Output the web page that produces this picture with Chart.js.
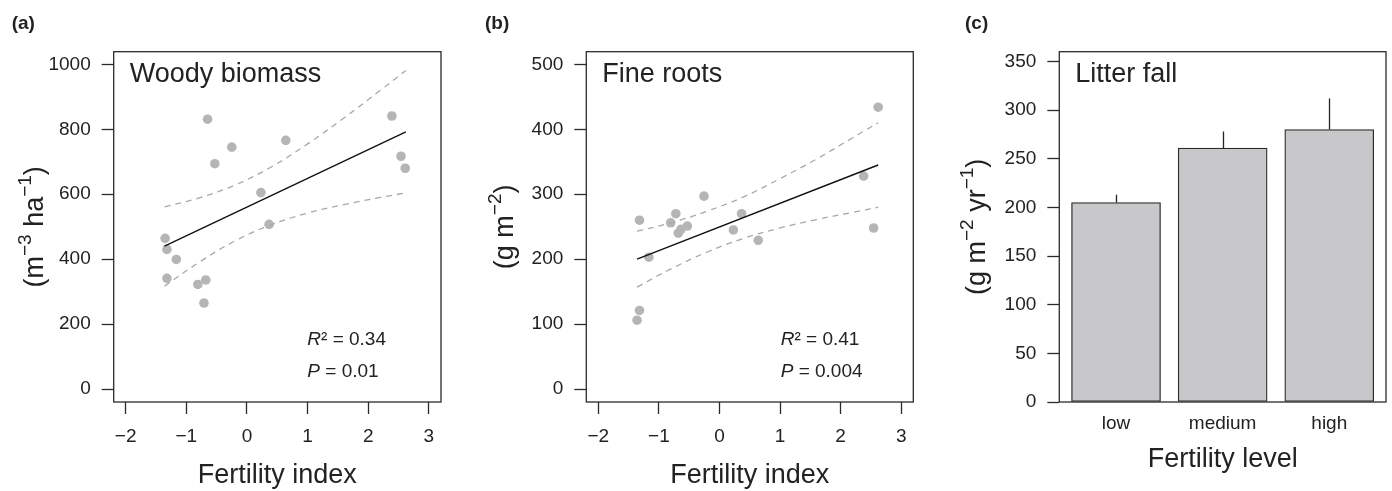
<!DOCTYPE html>
<html>
<head>
<meta charset="utf-8">
<script src="https://cdn.jsdelivr.net/npm/chart.js@4.4.1/dist/chart.umd.min.js"></script>
<style>
  html, body { margin: 0; padding: 0; background: #fff; }
  #wrap { position: relative; width: 1392px; height: 491px; overflow: hidden; }
  #wrap canvas { position: absolute; left: 0; top: 0; }
</style>
</head>
<body>
<div id="wrap">
  <canvas id="woody" width="1392" height="491"></canvas>
  <canvas id="roots" width="1392" height="491"></canvas>
  <canvas id="litter" width="1392" height="491"></canvas>
</div>
<script>
// panel (a) woody biomass vs fertility index
const woodyX = [-1.35, -1.32, -1.165, -1.32, -0.81, -0.68, -0.71, -0.65, -0.53, -0.25, 0.23, 0.365, 0.64, 2.39, 2.54, 2.61];
const woodyY = [464, 430, 399, 341, 322, 336, 265, 831, 694, 745, 605, 507, 766, 841, 717, 680];
const woodyFitX = [-1.36, 2.62];
const woodyFitY = [440, 792];
const woodyBandX = [-1.36, -0.8, -0.2, 0.4, 1.0, 1.6, 2.2, 2.62];
const woodyUpper = [561, 588, 628, 684, 755, 835, 920, 981];
const woodyLower = [317, 389, 456, 506, 542, 568, 590, 604];

// panel (b) fine roots vs fertility index
const rootsX = [-1.32, -1.165, -1.32, -1.36, -0.805, -0.72, -0.68, -0.635, -0.53, -0.255, 0.23, 0.365, 0.64, 2.38, 2.545, 2.62];
const rootsY = [260, 203, 121, 106, 256, 270, 240, 246, 251, 297, 245, 270, 229, 328, 248, 434];
const rootsFitX = [-1.36, 2.62];
const rootsFitY = [200, 345];
const rootsBandX = [-1.36, -0.8, -0.2, 0.4, 1.0, 1.6, 2.2, 2.62];
const rootsUpper = [243, 256, 274, 296, 324, 354, 387, 410];
const rootsLower = [157, 185, 211, 232, 248, 261, 272, 280];

// panel (c) litter fall by fertility level
const fertilityLevels = ["low", "medium", "high"];
const litterMean = [205, 261, 280];
const litterUpper = [213, 278, 312];

const fertTicks = [-2, -1, 0, 1, 2, 3];

const FONT = "'Liberation Sans', Arial, Helvetica, sans-serif";
const INK = "#222";
const DOT = "#b5b5b5";
const BAND = "#a8a8a8";
const YW = 100; // room kept for y tick labels

function pairs(xs, ys) {
  return xs.map((x, i) => ({ x: x, y: ys[i] }));
}

function minus(v) {
  return v < 0 ? "\u2212" + Math.abs(v) : String(v);
}

// draws box, titles, stats text and the y label with superscripts
function decor(spec) {
  return {
    id: "decor",
    afterDatasetsDraw(chart) {
      const ctx = chart.ctx;
      const a = chart.chartArea;
      ctx.save();

      if (spec.errors) {
        const xs = chart.scales.x, ys = chart.scales.y;
        ctx.strokeStyle = INK;
        ctx.lineWidth = 1.3;
        spec.errors.mean.forEach((m, i) => {
          const px = Math.round(xs.getPixelForValue(i)) + 0.5;
          ctx.beginPath();
          ctx.moveTo(px, ys.getPixelForValue(m));
          ctx.lineTo(px, ys.getPixelForValue(spec.errors.top[i]));
          ctx.stroke();
        });
      }

      ctx.strokeStyle = "#2a2a2a";
      ctx.lineWidth = 1.3;
      ctx.strokeRect(a.left, a.top, a.right - a.left, a.bottom - a.top);

      ctx.fillStyle = INK;
      ctx.textBaseline = "alphabetic";
      ctx.textAlign = "left";
      ctx.font = "bold 19px " + FONT;
      ctx.fillText(spec.tag, spec.tagX, 29);

      ctx.font = "27px " + FONT;
      ctx.fillText(spec.title, a.left + 16, 82);

      ctx.textAlign = "center";
      ctx.fillText(spec.xTitle, (a.left + a.right) / 2, spec.xTitleY);

      if (spec.stats) {
        ctx.textAlign = "left";
        let x = spec.stats.x;
        ctx.font = "italic 19px " + FONT;
        ctx.fillText("R", x, 345);
        x += ctx.measureText("R").width;
        ctx.font = "19px " + FONT;
        ctx.fillText("\u00b2 = " + spec.stats.r2, x, 345);
        x = spec.stats.x;
        ctx.font = "italic 19px " + FONT;
        ctx.fillText("P", x, 377);
        x += ctx.measureText("P").width;
        ctx.font = "19px " + FONT;
        ctx.fillText(" = " + spec.stats.p, x, 377);
      }

      // rotated y label, base text plus raised exponents
      const big = "27px " + FONT, small = "19px " + FONT;
      let total = 0;
      spec.yLabel.forEach(s => {
        ctx.font = s.sup ? small : big;
        total += ctx.measureText(s.t).width;
      });
      ctx.translate(spec.yLabelX, (a.top + a.bottom) / 2);
      ctx.rotate(-Math.PI / 2);
      ctx.textAlign = "left";
      let x = -total / 2;
      spec.yLabel.forEach(s => {
        ctx.font = s.sup ? small : big;
        ctx.fillText(s.t, x, s.sup ? -12 : 0);
        x += ctx.measureText(s.t).width;
      });
      ctx.restore();
    }
  };
}

function tickFont() {
  return { family: FONT, size: 19 };
}

function scatterPanel(id, box, xs, ys, fitX, fitY, bandX, up, lo, yMin, yMax, yTicks, spec) {
  new Chart(document.getElementById(id), {
    type: "scatter",
    data: {
      datasets: [
        { data: pairs(fitX, fitY), showLine: true, borderColor: "#111", borderWidth: 1.4, pointRadius: 0 },
        { data: pairs(bandX, up), showLine: true, borderColor: BAND, borderWidth: 1.3, borderDash: [6, 5], pointRadius: 0, tension: 0.4 },
        { data: pairs(bandX, lo), showLine: true, borderColor: BAND, borderWidth: 1.3, borderDash: [6, 5], pointRadius: 0, tension: 0.4 },
        { data: pairs(xs, ys), backgroundColor: DOT, borderWidth: 0, pointRadius: 4.8 }
      ]
    },
    options: {
      responsive: false,
      animation: false,
      events: [],
      layout: { padding: { left: box.l - YW, top: box.t, right: 1392 - box.r, bottom: 491 - box.b - 60 } },
      plugins: { legend: { display: false }, tooltip: { enabled: false } },
      scales: {
        x: {
          type: "linear", min: -2.198, max: 3.2,
          afterBuildTicks: s => { s.ticks = fertTicks.map(v => ({ value: v })); },
          afterFit: s => { s.height = 60; },
          grid: { drawOnChartArea: false, drawTicks: true, tickLength: 12, tickColor: "#2a2a2a", tickWidth: 1.3 },
          border: { display: false },
          ticks: { font: tickFont(), color: INK, padding: 11, maxRotation: 0, callback: v => minus(v) }
        },
        y: {
          type: "linear", min: yMin, max: yMax,
          afterBuildTicks: s => { s.ticks = yTicks.map(v => ({ value: v })); },
          afterFit: s => { s.width = YW; },
          grid: { drawOnChartArea: false, drawTicks: true, tickLength: 12, tickColor: "#2a2a2a", tickWidth: 1.3 },
          border: { display: false },
          ticks: { font: tickFont(), color: INK, padding: 11, callback: v => minus(v) }
        }
      }
    },
    plugins: [decor(spec)]
  });
}

scatterPanel("woody", { l: 113.7, t: 51.7, r: 441, b: 402 },
  woodyX, woodyY, woodyFitX, woodyFitY, woodyBandX, woodyUpper, woodyLower,
  -40, 1039, [0, 200, 400, 600, 800, 1000],
  {
    tag: "(a)", tagX: 11.7, title: "Woody biomass", xTitle: "Fertility index", xTitleY: 483,
    stats: { x: 307.3, r2: "0.34", p: "0.01" },
    yLabelX: 43,
    yLabel: [{ t: "(m" }, { t: "\u22123", sup: true }, { t: " ha" }, { t: "\u22121", sup: true }, { t: ")" }]
  });

scatterPanel("roots", { l: 586.3, t: 51.7, r: 913.3, b: 402 },
  rootsX, rootsY, rootsFitX, rootsFitY, rootsBandX, rootsUpper, rootsLower,
  -20, 519.5, [0, 100, 200, 300, 400, 500],
  {
    tag: "(b)", tagX: 485, title: "Fine roots", xTitle: "Fertility index", xTitleY: 483,
    stats: { x: 780.7, r2: "0.41", p: "0.004" },
    yLabelX: 512.5,
    yLabel: [{ t: "(g m" }, { t: "\u22122", sup: true }, { t: ")" }]
  });

new Chart(document.getElementById("litter"), {
  type: "bar",
  data: {
    datasets: [{
      data: litterMean.map((v, i) => ({ x: i, y: v })),
      backgroundColor: "#c8c8ca",
      borderColor: "#2a2a2a",
      borderWidth: 1.3,
      borderSkipped: false,
      barThickness: 89
    }]
  },
  options: {
    responsive: false,
    animation: false,
    events: [],
    layout: { padding: { left: 1059.3 - YW, top: 51.7, right: 1392 - 1386, bottom: 491 - 402 - 60 } },
    plugins: { legend: { display: false }, tooltip: { enabled: false } },
    scales: {
      x: {
        type: "linear", min: -0.532, max: 2.532, offset: false,
        afterBuildTicks: s => { s.ticks = fertilityLevels.map((c, i) => ({ value: i })); },
        afterFit: s => { s.height = 60; },
        grid: { display: false, drawTicks: false },
        border: { display: false },
        ticks: { font: tickFont(), color: INK, padding: 10, maxRotation: 0, callback: v => fertilityLevels[v] }
      },
      y: {
        type: "linear", min: 0, max: 360,
        afterBuildTicks: s => { s.ticks = [0, 50, 100, 150, 200, 250, 300, 350].map(v => ({ value: v })); },
        afterFit: s => { s.width = YW; },
        grid: { drawOnChartArea: false, drawTicks: true, tickLength: 12, tickColor: "#2a2a2a", tickWidth: 1.3 },
        border: { display: false },
        ticks: { font: tickFont(), color: INK, padding: 11 }
      }
    }
  },
  plugins: [decor({
    tag: "(c)", tagX: 965, title: "Litter fall", xTitle: "Fertility level", xTitleY: 467,
    yLabelX: 985,
    yLabel: [{ t: "(g m" }, { t: "\u22122", sup: true }, { t: " yr" }, { t: "\u22121", sup: true }, { t: ")" }],
    errors: { mean: litterMean, top: litterUpper }
  })]
});
</script>
</body>
</html>
